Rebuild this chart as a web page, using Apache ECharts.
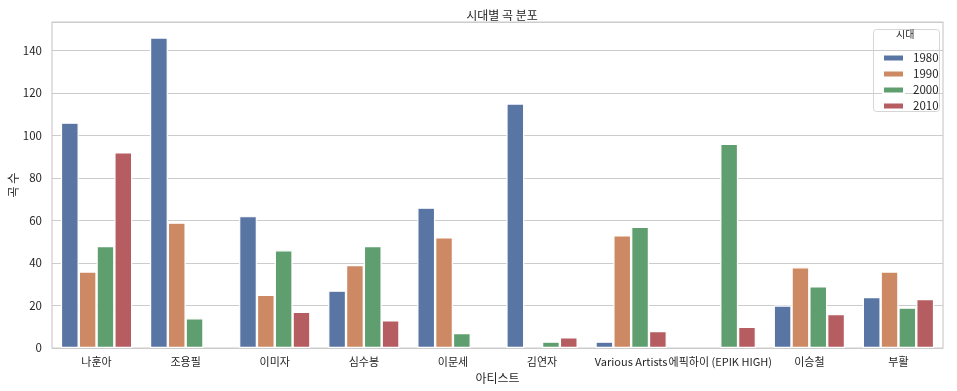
<!DOCTYPE html>
<html><head><meta charset="utf-8">
<script src="https://cdn.jsdelivr.net/npm/echarts@6/dist/echarts.min.js"></script>
<style>html,body{margin:0;padding:0;background:#fff}#c{width:957px;height:391px}</style>
</head><body><div id="c"></div>
<script>
const categories = ['나훈아','조용필','이미자','심수봉','이문세','김연자','Various Artists','에픽하이 (EPIK HIGH)','이승철','부활'];
const eras = ['1980','1990','2000','2010'];
const s1980 = [106,146,62,27,66,115,3,0,20,24];
const s1990 = [36,59,25,39,52,0,53,0,38,36];
const s2000 = [48,14,46,48,7,3,57,96,29,19];
const s2010 = [92,0,17,13,0,5,8,10,16,23];
const yTicks = [0,20,40,60,80,100,120,140];

const seriesValues = [s1980,s1990,s2000,s2010];
const colors = ['#5975a4','#cc8963','#5f9e6e','#b55d60'];
const FONT = '"Noto Sans CJK KR", "Noto Sans", sans-serif';
const TXT = '#262626';

const chart = echarts.init(document.getElementById('c'), null, {renderer:'canvas'});
chart.setOption({
  animation:false,
  textStyle:{fontFamily:FONT},
  title:{text:'시대별 곡 분포', left:497, top:4, textAlign:'center',
    textStyle:{fontSize:12, fontWeight:'normal', color:TXT, fontFamily:FONT}},
  grid:{left:52, right:14, top:22, bottom:43, show:true, borderColor:'#cccccc', borderWidth:1.2,
    containLabel:false, outerBoundsMode:'none'},
  legend:{orient:'vertical', left:877, top:46, itemWidth:21, itemHeight:7, itemGap:2,
    icon:'rect', data:eras,
    textStyle:{fontSize:11.5, color:TXT, fontFamily:FONT, lineHeight:14, padding:[0,0,0,4]}},
  graphic:[
    {type:'rect', left:873, top:29, shape:{width:66, height:82, r:3}, style:{fill:'rgba(255,255,255,0.8)', stroke:'#d6d6d6', lineWidth:1}, z:-1},
    {type:'text', left:896, top:29, style:{text:'시대', fontSize:10, fill:TXT, fontFamily:FONT}}
  ],
  xAxis:{type:'category', data:categories, name:'아티스트', nameLocation:'middle', nameGap:24,
    nameMoveOverlap:false,
    nameTextStyle:{fontSize:12, color:TXT, fontFamily:FONT},
    axisLine:{show:false}, axisTick:{show:false},
    axisLabel:{fontSize:11, color:TXT, margin:8, interval:0, fontFamily:FONT},
    splitLine:{show:false}},
  yAxis:{type:'value', min:0, max:153.3, interval:20, name:'곡 수', nameLocation:'middle', nameGap:33,
    nameMoveOverlap:false,
    nameTextStyle:{fontSize:12, color:TXT, fontFamily:FONT},
    axisLine:{show:false}, axisTick:{show:false},
    axisLabel:{fontSize:11.5, color:TXT, margin:10, showMaxLabel:false,
      formatter:v=> yTicks.includes(v) ? String(v) : ''},
    splitLine:{lineStyle:{color:'#cccccc', width:1.1}}},
  series: eras.map((e,i)=>({
    name:e, type:'bar', data:seriesValues[i].map(v=> v===0 ? '-' : v),
    barGap:'0%', barCategoryGap:'20%',
    itemStyle:{color:colors[i], borderColor:'#ffffff', borderWidth:1.2}
  }))
});
</script></body></html>
